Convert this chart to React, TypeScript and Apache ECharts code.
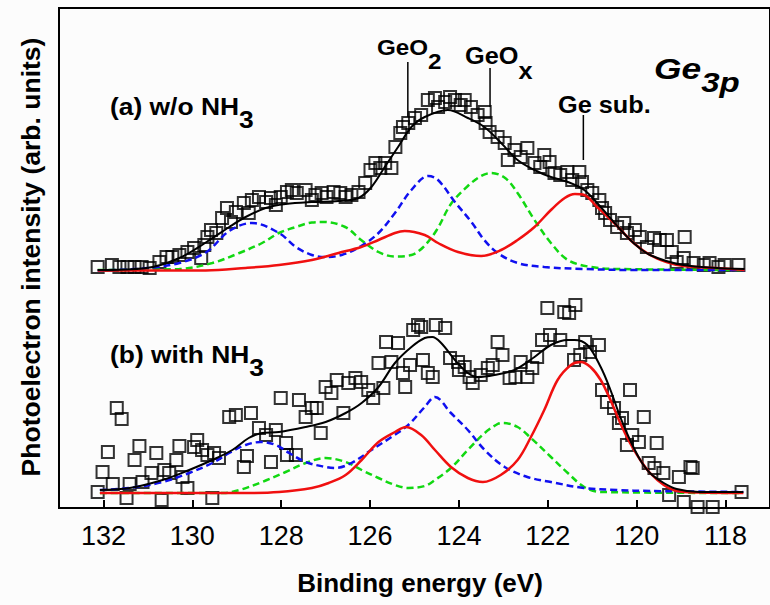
import React, { useEffect, useRef } from "react";
import * as echarts from "echarts";

const FONT = "'Liberation Sans', Arial, Helvetica, sans-serif";

const tickValues = [132, 130, 128, 126, 124, 122, 120, 118];

// Panel (a) w/o NH3 : measured points [binding energy, intensity]
const scatterA: number[][] = [
  [132.13,241],[131.81,243],[131.64,241],[131.46,241],[131.30,241],[131.14,241],[130.96,240],[130.74,246],[130.58,251],[130.45,251],
  [130.29,253],[130.11,256],[129.96,260],[129.80,250],[129.73,263],[129.66,271],[129.58,278],[129.46,275],[129.33,290],[129.22,300],
  [129.13,286],[129.02,296],[128.84,305],[128.73,295],[128.66,308],[128.50,311],[128.34,306],[128.23,310],[128.12,303],[128.01,311],
  [127.87,316],[127.76,318],[127.65,315],[127.45,318],[127.31,308],[127.23,313],[127.09,315],[126.98,311],[126.82,316],[126.67,315],
  [126.55,311],[126.42,313],[126.26,316],[126.11,325],[125.99,338],[125.88,345],[125.77,340],[125.66,345],[125.52,340],[125.43,361],
  [125.32,375],[125.26,381],[125.14,385],[124.99,390],[124.85,393],[124.70,408],[124.54,410],[124.47,401],[124.31,406],[124.20,411],
  [124.09,408],[123.96,403],[123.87,408],[123.73,401],[123.58,393],[123.42,396],[123.40,385],[123.31,376],[123.13,371],[122.97,365],
  [122.90,348],[122.75,358],[122.61,351],[122.46,360],[122.30,345],[122.17,341],[122.08,353],[121.96,346],[121.85,335],[121.72,333],
  [121.56,336],[121.45,328],[121.29,336],[121.23,326],[121.11,318],[121.00,315],[120.84,308],[120.78,300],[120.71,295],[120.60,288],
  [120.44,281],[120.28,285],[120.22,275],[120.04,278],[119.93,271],[119.77,261],[119.61,270],[119.48,268],[119.32,268],[119.21,256],
  [119.10,246],[118.94,250],[118.92,271],[118.72,245],[118.49,243],[118.36,245],[118.16,241],[118.02,243],[117.71,243]
];

// Panel (a) fitted components
const fitBlueA: number[][] = [
  [132.13,237.5],[131.5,238.5],[131.0,240],[130.29,245],[129.68,256],[129.17,277],[128.66,285],[128.05,275],[127.67,261],[127.31,253],
  [127.0,251],[126.64,253],[126.2,262],[125.81,275],[125.44,295],[125.07,318],[124.69,332],[124.47,328],[124.09,306],[123.72,286],
  [123.43,268],[123.13,255],[122.68,245],[122.08,241],[121.19,239],[120.0,238],[117.57,238]
];
const fitGreenA: number[][] = [
  [132.13,238],[130.29,239],[129.55,245],[128.94,255],[128.43,265],[128.05,275],[127.67,281],[127.31,285.5],[127.05,286],[126.56,281],
  [126.2,268],[125.81,256],[125.44,251.5],[125.07,253],[124.8,261],[124.5,278],[124.18,304],[123.8,322],[123.5,332],[123.28,335],
  [122.96,330],[122.68,315],[122.3,288],[121.93,265],[121.55,248],[121.03,241],[120.42,239],[117.57,238]
];
const fitRedA: number[][] = [
  [132.13,237.5],[129.7,237.5],[128.8,240],[128.05,243],[127.31,248],[126.71,255],[126.2,261],[125.81,268],[125.44,275],[125.22,277],
  [124.77,273],[124.47,265],[124.02,256],[123.5,252],[123.05,258],[122.68,268],[122.3,281],[121.93,298],[121.62,310],[121.39,314],
  [121.18,313],[120.89,301],[120.42,281],[120.07,265],[119.7,253],[119.33,246],[118.95,242],[118.2,240],[117.57,238]
];
const fitSumA: number[][] = [
  [132.13,238],[131.03,240],[130.29,250],[129.68,266],[129.17,281],[128.8,291],[128.35,300],[127.9,304],[127.31,306],[126.71,307],
  [126.26,310],[125.97,321],[125.67,341],[125.37,361],[125.07,381],[124.77,391],[124.25,398],[123.8,390],[123.43,381],[123.05,365],
  [122.68,348],[122.3,338],[121.93,331],[121.55,326],[121.18,318],[120.81,301],[120.42,281],[120.07,265],[119.7,253],[118.95,243],
  [117.57,239]
];

// Panel (b) with NH3 : measured points
const scatterB: number[][] = [
  [132.13,16],[132.02,36],[131.90,56],[131.79,24],[131.70,100],[131.59,89],[131.48,10],[131.41,24],[131.30,48],[131.19,62],
  [131.12,26],[130.92,35],[130.81,55],[130.69,8],[130.63,38],[130.52,35],[130.36,48],[130.29,62],[130.22,31],[130.11,20],
  [129.96,61],[129.89,68],[129.78,58],[129.66,53],[129.55,10],[129.51,55],[129.40,50],[129.17,91],[129.02,93],[128.84,41],
  [128.77,52],[128.68,95],[128.50,80],[128.34,73],[128.23,46],[128.12,78],[128.01,110],[127.89,65],[127.87,53],[127.67,53],
  [127.60,108],[127.45,91],[127.31,100],[127.20,100],[127.11,75],[127.00,121],[126.87,115],[126.75,128],[126.60,95],[126.49,125],
  [126.33,130],[126.20,126],[126.04,118],[125.93,110],[125.81,145],[125.70,120],[125.64,166],[125.52,146],[125.37,165],[125.26,135],
  [125.21,121],[125.10,143],[125.03,178],[124.92,183],[124.85,181],[124.81,148],[124.70,135],[124.59,131],[124.52,183],[124.31,180],
  [124.20,150],[124.02,146],[124.00,138],[123.87,141],[123.76,131],[123.69,125],[123.51,133],[123.35,140],[123.24,143],[123.13,166],
  [123.02,153],[122.86,130],[122.73,131],[122.61,146],[122.46,131],[122.35,140],[122.24,151],[122.13,168],[122.01,200],[121.95,173],
  [121.72,168],[121.63,196],[121.52,195],[121.38,203],[121.41,148],[121.27,153],[121.16,166],[121.05,156],[120.85,163],[120.78,118],
  [120.67,106],[120.51,100],[120.40,85],[120.33,90],[120.15,118],[120.22,63],[120.10,73],[119.95,66],[119.84,91],[119.73,45],
  [119.55,65],[119.60,40],[119.40,35],[119.27,13],[119.05,31],[118.94,6],[118.79,41],[118.74,40],[118.63,1],[118.29,1],
  [117.64,16]
];

// Panel (b) fitted components
const fitBlueB: number[][] = [
  [132.08,18],[131.41,20],[130.67,26],[130.07,35],[129.55,45],[129.17,55],[128.8,63],[128.46,66],[128.12,63],[127.82,55],
  [127.45,46],[127.0,41],[126.78,40],[126.42,45],[125.97,58],[125.52,71],[125.14,83],[124.77,101],[124.54,111],[124.18,95],
  [123.8,78],[123.42,58],[122.97,41],[122.46,31],[121.93,26],[121.19,20],[120.44,18],[119.7,17],[117.6,16]
];
const fitGreenB: number[][] = [
  [132.08,15],[129.3,15],[128.94,18],[128.43,26],[127.9,36],[127.45,45],[127.0,50],[126.55,46],[126.19,38],[125.81,30],
  [125.44,23],[125.14,20],[124.77,22],[124.54,28],[124.18,40],[123.8,58],[123.42,75],[123.13,84],[123.01,85],[122.68,81],
  [122.38,70],[121.93,51],[121.55,35],[121.18,21],[120.81,16],[117.6,15]
];
const fitRedB: number[][] = [
  [132.08,15],[128.8,15],[128.05,16],[127.31,20],[126.93,25],[126.55,33],[126.19,48],[125.81,66],[125.44,76],[125.19,81],
  [124.85,73],[124.54,58],[124.18,41],[123.8,30],[123.46,26],[123.06,33],[122.68,48],[122.38,71],[122.08,98],[121.78,128],
  [121.48,143],[121.26,146],[121.04,141],[120.81,128],[120.59,108],[120.37,85],[120.15,65],[119.92,48],[119.7,35],[119.39,23],
  [119.1,17],[118.6,15.5],[117.6,15]
];
const fitSumB: number[][] = [
  [132.08,18],[131.41,20],[130.67,28],[130.07,38],[129.55,48],[129.1,58],[128.73,70],[128.43,75],[128.05,76],[127.45,81],
  [127.0,86],[126.55,95],[126.19,105],[125.81,121],[125.44,145],[125.07,161],[124.77,170],[124.6,171],[124.4,165],[124.09,148],
  [123.8,135],[123.58,131],[123.2,133],[122.75,138],[122.3,151],[121.93,163],[121.55,168],[121.4,168],[121.11,163],[120.81,141],
  [120.59,118],[120.37,91],[120.15,68],[119.92,48],[119.7,35],[119.39,25],[119.1,19],[118.6,16],[117.6,16]
];

// Peak marker leader lines [energy, intensity]
const leaderGeO2 = [[125.15, 446], [125.15, 391]];
const leaderGeOx = [[123.3, 440], [123.3, 401]];
const leaderGeSub = [[121.2, 393], [121.2, 348]];

function lineSeries(data: number[][], color: string, dashed: boolean, width: number) {
  return {
    type: "line",
    data,
    smooth: 0.35,
    symbol: "none",
    silent: true,
    lineStyle: { color, width, type: dashed ? [7, 4] : "solid" },
    z: 3,
  };
}

function leader(data: number[][]) {
  return {
    type: "line",
    data,
    symbol: "none",
    silent: true,
    lineStyle: { color: "#000", width: 1.5 },
    z: 4,
  };
}

function scatter(data: number[][]) {
  return {
    type: "scatter",
    data,
    symbol: "rect",
    symbolSize: 12,
    silent: true,
    itemStyle: { color: "rgba(0,0,0,0)", borderColor: "#000", borderWidth: 2 },
    z: 2,
  };
}

function txt(text: string, x: number, y: number, size: number, extra: any = {}, el: any = {}) {
  return {
    type: "text",
    x,
    y,
    silent: true,
    ...el,
    style: {
      text,
      fontSize: size,
      fontWeight: "bold",
      fontFamily: FONT,
      fill: "#000",
      align: "left",
      verticalAlign: "middle",
      ...extra,
    },
  };
}

// main text with a lowered (subscript-like) part; capCenter = vertical centre of main text
function subTxt(
  main: string,
  sub: string,
  x: number,
  capCenter: number,
  size: number,
  subSize: number,
  drop: number,
  scaleX: number,
  italic = false
) {
  const base = {
    fontWeight: "bold",
    fontFamily: FONT,
    fill: "#000",
    fontStyle: italic ? "italic" : "normal",
  };
  return {
    type: "text",
    x,
    y: capCenter - size / 2,
    scaleX,
    silent: true,
    style: {
      text: `{m|${main}}{s|${sub}}`,
      align: "left",
      verticalAlign: "top",
      rich: {
        m: { ...base, fontSize: size, lineHeight: size, verticalAlign: "top" },
        s: {
          ...base,
          fontSize: subSize,
          lineHeight: subSize,
          padding: [drop + (size - subSize) / 2, 0, 0, 0],
          verticalAlign: "top",
        },
      },
    },
  };
}

export default function App() {
  const ref = useRef<HTMLDivElement>(null);
  useEffect(() => {
    const chart = echarts.init(ref.current!, null, { renderer: "svg" });
    chart.setOption({
      animation: false,
      backgroundColor: "#fcfcfc",
      grid: {
        left: 59,
        top: 8,
        width: 715,
        height: 500,
        show: true,
        borderColor: "#000",
        borderWidth: 2,
        backgroundColor: "transparent",
      },
      xAxis: {
        type: "value",
        min: 117,
        max: 133,
        inverse: true,
        axisLine: { show: true, lineStyle: { color: "#000", width: 2 } },
        axisTick: {
          show: true,
          inside: true,
          length: 8,
          customValues: tickValues,
          lineStyle: { color: "#000", width: 2 },
        },
        axisLabel: {
          customValues: tickValues,
          fontSize: 27,
          color: "#000",
          margin: 14,
          fontFamily: FONT,
        },
        splitLine: { show: false },
      },
      yAxis: {
        type: "value",
        min: 0,
        max: 500,
        axisLine: { show: false },
        axisTick: { show: false },
        axisLabel: { show: false },
        splitLine: { show: false },
      },
      series: [
        scatter(scatterA),
        scatter(scatterB),
        lineSeries(fitGreenA, "#12d812", true, 2.5),
        lineSeries(fitBlueA, "#1010f0", true, 2.5),
        lineSeries(fitRedA, "#f01010", false, 2.5),
        lineSeries(fitSumA, "#000", false, 2),
        lineSeries(fitGreenB, "#12d812", true, 2.5),
        lineSeries(fitBlueB, "#1010f0", true, 2.5),
        lineSeries(fitRedB, "#f01010", false, 2.5),
        lineSeries(fitSumB, "#000", false, 2),
        leader(leaderGeO2),
        leader(leaderGeOx),
        leader(leaderGeSub),
      ],
      graphic: [
        subTxt("(a) w/o NH", "3", 110, 106.5, 24, 24, 13, 1.1),
        subTxt("(b) with NH", "3", 110, 354, 24, 24, 13, 1.1),
        subTxt("GeO", "2", 377, 47.5, 22, 22, 14, 1.1),
        subTxt("GeO", "x", 465, 56, 23, 23, 15, 1.1),
        txt("Ge sub.", 558, 105, 23, {}, { scaleX: 1.1 }),
        subTxt("Ge", "3p", 654, 68, 30, 28, 14, 1.18, true),
        txt("Photoelectron intensity (arb. units)", 31, 257, 26.5, { align: "center" }, { rotation: Math.PI / 2 }),
        txt("Binding energy (eV)", 420, 583, 26, { align: "center" }),
      ],
    });
    return () => chart.dispose();
  }, []);
  return (
    <div
      ref={ref}
      style={{ position: "fixed", left: 0, top: 0, width: 770, height: 605 }}
    />
  );
}
